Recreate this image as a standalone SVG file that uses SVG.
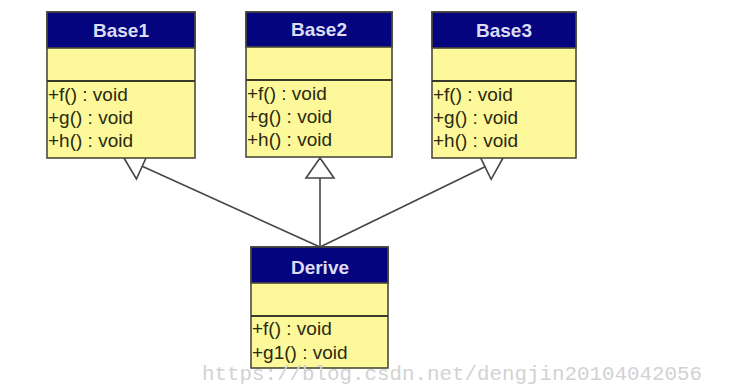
<svg xmlns="http://www.w3.org/2000/svg" width="736" height="392" viewBox="0 0 736 392">
  <style>
    .box { fill: #fdf99b; stroke: #4a4a3a; stroke-width: 1.6; }
    .head { fill: #04047f; stroke: #4a4a3a; stroke-width: 1.6; }
    .div { stroke: #3a3a2a; stroke-width: 2; }
    .title { font-family: "Liberation Sans", Arial, sans-serif; font-size: 19px; font-weight: bold; fill: #dcdcf4; text-anchor: middle; }
    .op { font-family: "Liberation Sans", Arial, sans-serif; font-size: 19px; fill: #2a2a10; }
    .edge { fill: none; stroke: #454545; stroke-width: 1.6; marker-end: url(#inherit); }
    .mark { font-family: "Liberation Mono", "Courier New", monospace; font-size: 21px; fill: #d2d2d2; }
  </style>
  <defs>
    <!-- hollow triangle for generalization -->
    <marker id="inherit" markerUnits="userSpaceOnUse" viewBox="0 0 20 28" refX="20" refY="14" markerWidth="20" markerHeight="28" orient="auto" overflow="visible">
      <path d="M20,14 L0,0 L0,28 Z" fill="#ffffff" stroke="#454545" stroke-width="1.6" stroke-linejoin="miter"/>
    </marker>
  </defs>
  <rect width="736" height="392" fill="#ffffff"/>

  <g id="connectors">
    <path class="edge" d="M320,247 L124,158"/>
    <path class="edge" d="M320,247 L320,158"/>
    <path class="edge" d="M320,247 L503,158"/>
  </g>

  <g id="Base1">
    <rect class="box" x="47" y="12" width="148" height="146"/>
    <rect class="head" x="47" y="12" width="148" height="36"/>
    <line class="div" x1="47" y1="81" x2="195" y2="81"/>
    <text class="title" x="121" y="37">Base1</text>
    <text class="op" x="48" y="101">+f() : void</text>
    <text class="op" x="48" y="124">+g() : void</text>
    <text class="op" x="48" y="147">+h() : void</text>
  </g>

  <g id="Base2">
    <rect class="box" x="246" y="12" width="146" height="145"/>
    <rect class="head" x="246" y="12" width="146" height="35"/>
    <line class="div" x1="246" y1="80" x2="392" y2="80"/>
    <text class="title" x="319" y="36">Base2</text>
    <text class="op" x="247" y="100">+f() : void</text>
    <text class="op" x="247" y="123">+g() : void</text>
    <text class="op" x="247" y="146">+h() : void</text>
  </g>

  <g id="Base3">
    <rect class="box" x="432" y="12" width="144" height="146"/>
    <rect class="head" x="432" y="12" width="144" height="36"/>
    <line class="div" x1="432" y1="81" x2="576" y2="81"/>
    <text class="title" x="504" y="37">Base3</text>
    <text class="op" x="433" y="101">+f() : void</text>
    <text class="op" x="433" y="124">+g() : void</text>
    <text class="op" x="433" y="147">+h() : void</text>
  </g>

  <g id="Derive">
    <rect class="box" x="251" y="247" width="137" height="121"/>
    <rect class="head" x="251" y="247" width="137" height="36"/>
    <line class="div" x1="251" y1="316" x2="388" y2="316"/>
    <text class="title" x="320" y="274">Derive</text>
    <text class="op" x="252" y="335">+f() : void</text>
    <text class="op" x="252" y="359">+g1() : void</text>
  </g>

  <text class="mark" x="202" y="380" textLength="500" lengthAdjust="spacingAndGlyphs">https://blog.csdn.net/dengjin20104042056</text>
</svg>
